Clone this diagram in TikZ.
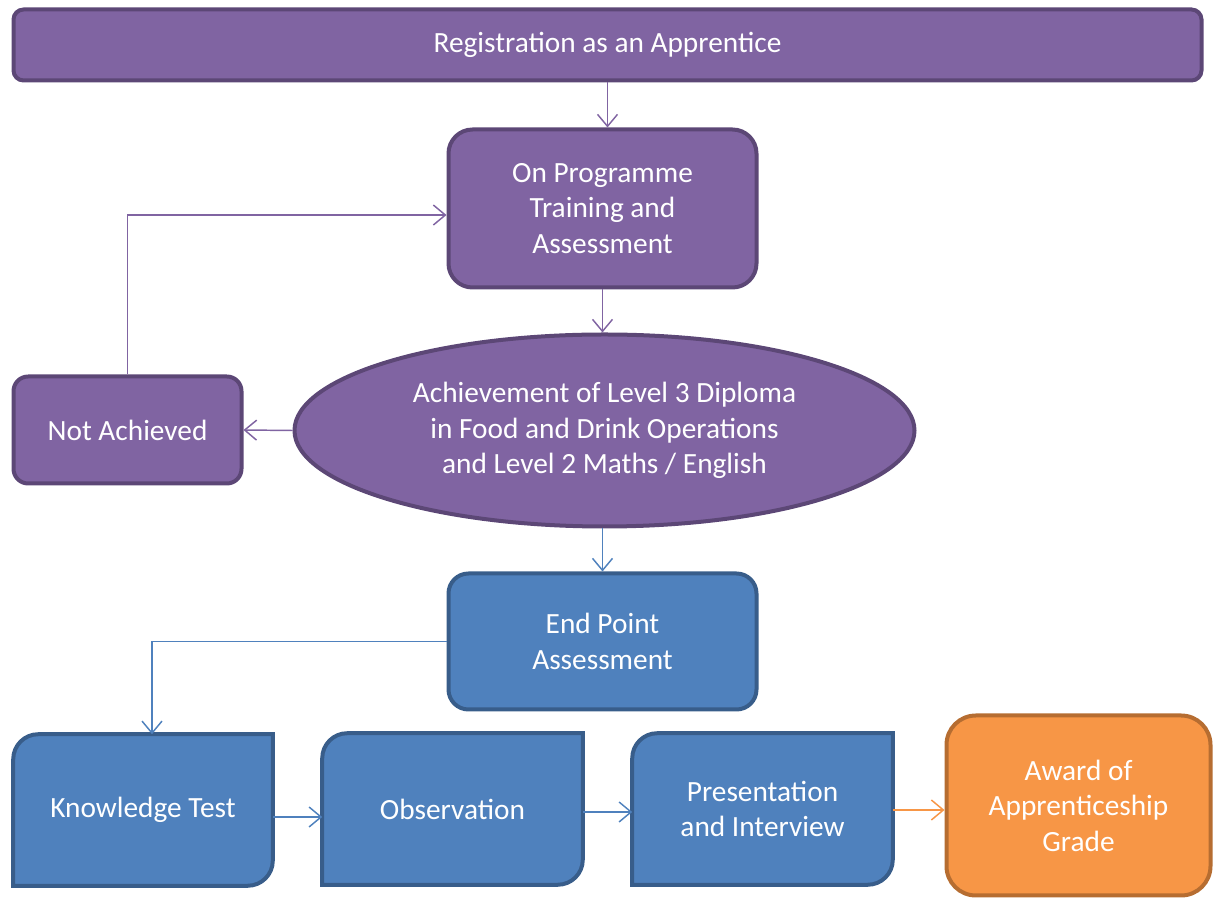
\documentclass[tikz,border=0pt]{standalone}
\usepackage{fontspec}
\setmainfont{Carlito}
\usetikzlibrary{arrows.meta,shapes.geometric,backgrounds}
\definecolor{pfill}{HTML}{8064A2}
\definecolor{pdraw}{HTML}{5C4776}
\definecolor{bfill}{HTML}{4F81BD}
\definecolor{bdraw}{HTML}{385D8A}
\definecolor{ofill}{HTML}{F79646}
\definecolor{odraw}{HTML}{B66D31}
\newcommand\snipround[3]{%
  \begin{scope}[on background layer]
    \draw[line width=3pt,draw=#2,fill=#3]
      (#1.south west) -- ([yshift=-18.75pt]#1.north west)
      arc[start angle=180,end angle=90,radius=18.75pt]
      -- (#1.north east) -- ([yshift=18.75pt]#1.south east)
      arc[start angle=0,end angle=-90,radius=18.75pt] -- cycle;
  \end{scope}}
\begin{document}
\begin{tikzpicture}[x=0.75pt,y=0.75pt,
  txt/.style={text=white,font=\fontsize{22}{26.6}\selectfont,align=center,inner sep=0pt},
  pbox/.style={txt,draw=pdraw,fill=pfill,line width=3pt,rounded corners=#1},
  bbox/.style={txt,draw=bdraw,fill=bfill,line width=3pt,rounded corners=#1},
  obox/.style={txt,draw=odraw,fill=ofill,line width=3pt,rounded corners=#1},
  plain/.style={txt,draw=none},
  conn/.style={line width=1.1pt,-{Straight Barb[length=9pt,width=15pt,line width=1.1pt]}},
  pconn/.style={conn,draw=pfill},
  bconn/.style={conn,draw=bfill},
  oconn/.style={conn,draw=ofill}]
\useasboundingbox (0,0) rectangle (1215,900);

\node[pbox=7.5pt,minimum width=1188*0.75pt,minimum height=71*0.75pt] (reg) at (607.5,855) {Registration as an Apprentice};
\node[pbox=18pt,minimum width=308*0.75pt,minimum height=158*0.75pt] (op) at (602.5,691.5) {On Programme\\Training and\\Assessment};
\node[txt,ellipse,draw=pdraw,fill=pfill,line width=3pt,minimum width=620*0.75pt,minimum height=192*0.75pt] (ell) at (604.5,469.5) {Achievement of Level 3 Diploma\\in Food and Drink Operations\\and Level 2 Maths / English};
\node[pbox=11pt,minimum width=228*0.75pt,minimum height=107*0.75pt] (na) at (127.5,470) {Not Achieved};
\node[bbox=15pt,minimum width=308*0.75pt,minimum height=136*0.75pt] (epa) at (602.5,258.5) {End Point\\Assessment};

\node[plain,minimum width=259*0.75pt,minimum height=151*0.75pt] (kt) at (143,90) {Knowledge Test};
\node[plain,minimum width=260*0.75pt,minimum height=151*0.75pt] (obs) at (452.5,91) {Observation};
\node[plain,minimum width=260*0.75pt,minimum height=151*0.75pt] (pres) at (762.5,91) {Presentation\\and Interview};
\snipround{kt}{bdraw}{bfill}
\snipround{obs}{bdraw}{bfill}
\snipround{pres}{bdraw}{bfill}
\node[obox=22pt,minimum width=264*0.75pt,minimum height=180*0.75pt] (aw) at (1078.5,94.5) {Award of\\Apprenticeship\\Grade};

\draw[pconn] (reg.south) -- (reg.south |- op.north);
\draw[pconn] (op.south) -- (op.south |- ell.north);
\draw[pconn] (ell.west) -- (na.east);
\draw[pconn] (na.north) |- ([yshift=-4.9pt]op.west);
\draw[bconn] (ell.south -| epa.north) -- (epa.north);
\draw[bconn] (epa.west) -| ([xshift=6.75pt]kt.north);
\draw[bconn] ([yshift=-5.25pt]kt.east) -- ([yshift=-5.25pt]kt.east -| obs.west);
\draw[bconn] ([yshift=-2.25pt]obs.east) -- ([yshift=-2.25pt]obs.east -| pres.west);
\draw[oconn] ([yshift=-0.75pt]pres.east) -- ([yshift=-0.75pt]pres.east -| aw.west);
\end{tikzpicture}
\end{document}
